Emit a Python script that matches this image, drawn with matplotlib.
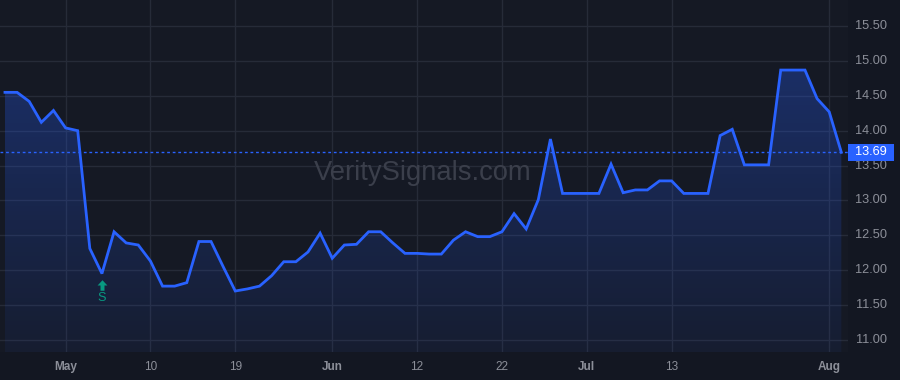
import matplotlib
matplotlib.use("Agg")
import matplotlib.pyplot as plt
import numpy as np
from matplotlib.patches import Polygon, Rectangle
from matplotlib.path import Path
from matplotlib.colors import LinearSegmentedColormap
import matplotlib.transforms as mtransforms

# ---- data ----
prices = [14.55, 14.55, 14.42, 14.12, 14.29, 14.04, 14.00, 12.31, 11.95, 12.55,
          12.39, 12.36, 12.13, 11.77, 11.77, 11.82, 12.41, 12.41, 12.05, 11.70,
          11.73, 11.77, 11.92, 12.12, 12.12, 12.26, 12.53, 12.17, 12.36, 12.37,
          12.55, 12.55, 12.39, 12.24, 12.24, 12.23, 12.23, 12.43, 12.55, 12.48,
          12.48, 12.55, 12.81, 12.59, 13.01, 13.88, 13.10, 13.10, 13.10, 13.10,
          13.52, 13.11, 13.15, 13.15, 13.28, 13.28, 13.10, 13.10, 13.10, 13.93,
          14.02, 13.51, 13.51, 13.51, 14.87, 14.87, 14.87, 14.46, 14.27, 13.69]
tick_idx = [5, 12, 19, 27, 34, 41, 48, 55, 68]
tick_labels = ["May", "10", "19", "Jun", "12", "22", "Jul", "13", "Aug"]
tick_bold = [True, False, False, True, False, False, True, False, True]
y_ticks = [11.00, 11.50, 12.00, 12.50, 13.00, 13.50, 14.00, 14.50, 15.00, 15.50]
last_price = 13.69
signal_idx = 8
signal_label = "S"
watermark = "VeritySignals.com"

# ---- style ----
W, H = 900, 380
fig = plt.figure(figsize=(W / 100, H / 100), dpi=100)
fig.patch.set_facecolor("#131722")
ax = fig.add_axes([0, 28 / H, 848 / W, 352 / H])
ax.set_facecolor("#151924")

x = np.arange(len(prices))
ymin, ymax = 10.825, 15.875
ax.set_xlim(-0.41, 69.55)
ax.set_ylim(ymin, ymax)

for s in ax.spines.values():
    s.set_visible(False)

grid_c = "#262b38"
for t in y_ticks:
    ax.axhline(t, color=grid_c, lw=1, zorder=0)
for t in tick_idx:
    ax.axvline(t, color=grid_c, lw=1, zorder=0)

# gradient fill under line
cmap = LinearSegmentedColormap.from_list(
    "g", [(0, (0.16, 0.38, 1.0, 0.06)), (1, (0.16, 0.38, 1.0, 0.30))])
grad = np.linspace(0, 1, 256).reshape(-1, 1)
im = ax.imshow(grad, extent=[x[0], x[-1], ymin, max(prices)], origin="lower",
               aspect="auto", cmap=cmap, zorder=1)
verts = [(x[0], ymin)] + list(zip(x, prices)) + [(x[-1], ymin)]
poly = Polygon(verts, closed=True, facecolor="none", edgecolor="none")
ax.add_patch(poly)
im.set_clip_path(poly)

ax.plot(x, prices, color="#2962ff", lw=2, zorder=3, solid_joinstyle="miter")
ax.axhline(last_price, color="#2962ff", lw=1, ls=(0, (2, 2)), zorder=2)

ax.set_xticks([])
ax.set_yticks([])

# x tick labels
lab_off = mtransforms.offset_copy(ax.transData, fig=fig, x=0, y=-15 * 0.72, units="points")
for t, lab, b in zip(tick_idx, tick_labels, tick_bold):
    ax.text(t, ymin, lab, transform=lab_off, ha="center", va="center",
            fontsize=8.5, color="#8c8f99", fontweight="bold" if b else "normal",
            family="Liberation Sans", clip_on=False)

# y tick labels
ytr = ax.get_yaxis_transform()
for t in y_ticks:
    ax.text(1.0 + 39 / 848, t, f"{t:.2f}", transform=ytr,
            ha="right", va="center", fontsize=9.2, color="#8c8f99",
            family="Liberation Sans", clip_on=False)

# last price label box
box_h = 17 / 352 * (ymax - ymin)
ax.add_patch(Rectangle((1.0, last_price - box_h / 2), 46 / 848, box_h,
                       transform=ytr, facecolor="#2962ff", edgecolor="none",
                       clip_on=False, zorder=5))
ax.text(1.0 + 39 / 848, last_price, f"{last_price:.2f}",
        transform=ytr, ha="right", va="center",
        fontsize=9.2, color="white", family="Liberation Sans", clip_on=False, zorder=6)

# signal marker (up arrow)
arrow_path = Path([(0, 4.5), (4.2, 0), (1.7, 0), (1.7, -4.5), (-1.7, -4.5),
                   (-1.7, 0), (-4.2, 0), (0, 4.5)],
                  [Path.MOVETO] + [Path.LINETO] * 6 + [Path.CLOSEPOLY])
px = (ymax - ymin) / 352
ax.plot([signal_idx], [prices[signal_idx] - 11 * px], marker=arrow_path,
        markersize=7.6, color="#089981", markeredgewidth=0, zorder=4)
ax.text(signal_idx, prices[signal_idx] - 24.5 * px, signal_label, ha="center", va="center",
        fontsize=9.2, color="#089981", family="Liberation Sans", zorder=4)

# watermark
ax.text(0.498, (13.39 - ymin) / (ymax - ymin), watermark, transform=ax.transAxes,
        ha="center", va="center", fontsize=19.7, color="#3b3f4b",
        family="Liberation Sans", zorder=1)

fig.savefig("out.png", dpi=100, facecolor=fig.get_facecolor())
